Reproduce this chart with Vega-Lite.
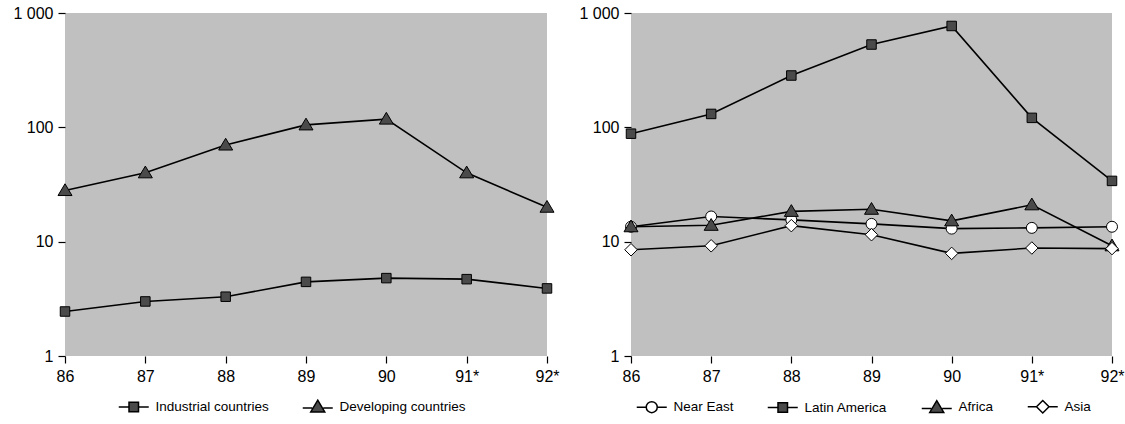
{
  "$schema": "https://vega.github.io/schema/vega-lite/v6.json",
  "background": "white",
  "padding": {"left": 12, "top": 5, "right": 0, "bottom": 0},
  "spacing": 16,
  "config": {
    "font": "Liberation Sans",
    "view": {"fill": "#c0c0c0", "stroke": null},
    "axis": {"labelFont": "Liberation Sans", "labelFontSize": 16, "labelColor": "black", "tickColor": "black", "tickWidth": 1.2, "domain": false, "grid": false, "tickSize": 7, "labelPadding": 5, "title": null},
    "legend": {"labelFont": "Liberation Sans", "labelFontSize": 13.5, "labelColor": "black", "title": null, "direction": "horizontal", "symbolOpacity": 1, "symbolStrokeColor": "black", "symbolStrokeWidth": 1.5, "symbolSize": 100, "labelOffset": 15, "columnPadding": 30}
  },
  "hconcat": [
    {
      "width": 482,
      "height": 343,
      "data": {"values": [
        {"year": "86", "series": "Industrial countries", "value": 2.45},
        {"year": "87", "series": "Industrial countries", "value": 3.0},
        {"year": "88", "series": "Industrial countries", "value": 3.3},
        {"year": "89", "series": "Industrial countries", "value": 4.45},
        {"year": "90", "series": "Industrial countries", "value": 4.8},
        {"year": "91*", "series": "Industrial countries", "value": 4.7},
        {"year": "92*", "series": "Industrial countries", "value": 3.9},
        {"year": "86", "series": "Developing countries", "value": 28},
        {"year": "87", "series": "Developing countries", "value": 40},
        {"year": "88", "series": "Developing countries", "value": 70},
        {"year": "89", "series": "Developing countries", "value": 105},
        {"year": "90", "series": "Developing countries", "value": 118},
        {"year": "91*", "series": "Developing countries", "value": 40},
        {"year": "92*", "series": "Developing countries", "value": 20}
      ]},
      "encoding": {
        "x": {"field": "year", "type": "ordinal", "sort": ["86", "87", "88", "89", "90", "91*", "92*"], "scale": {"type": "point", "padding": 0}, "axis": {"labelAngle": 0}},
        "y": {"field": "value", "type": "quantitative", "scale": {"type": "log", "domain": [1, 1000]}, "axis": {"values": [1, 10, 100, 1000], "labelExpr": "datum.value == 1000 ? '1 000' : format(datum.value, 'd')"}}
      },
      "layer": [
        {"mark": {"type": "line", "color": "black", "strokeWidth": 1.6}, "encoding": {"detail": {"field": "series"}}},
        {
          "mark": {"type": "point", "filled": true, "stroke": "black", "strokeWidth": 1, "opacity": 1, "size": 100},
          "encoding": {
            "shape": {"field": "series", "scale": {"domain": ["Industrial countries", "Developing countries"], "range": ["M-0.95,-0.95H0.95V0.95H-0.95Z", "M0,-1.35L1.4,1L-1.4,1Z"]}, "legend": null},
            "color": {"field": "series", "scale": {"domain": ["Industrial countries", "Developing countries"], "range": ["#4a4a4a", "#4a4a4a"]}, "legend": null}
          }
        },
        {
          "mark": {"type": "point", "filled": true, "opacity": 0, "strokeWidth": 1.5, "size": 100},
          "encoding": {
            "shape": {"field": "series", "scale": {"domain": ["Industrial countries", "Developing countries"], "range": ["M-3,0H-0.95M0.95,0H3M-0.95,-0.95H0.95V0.95H-0.95Z", "M-3,0.2H-1.1M1.1,0.2H3M0,-1.35L1.4,1L-1.4,1Z"]}, "legend": {"orient": "none", "legendX": 62, "legendY": 387, "direction": "horizontal"}},
            "fill": {"field": "series", "scale": {"domain": ["Industrial countries", "Developing countries"], "range": ["#4a4a4a", "#4a4a4a"]}, "legend": {"orient": "none", "legendX": 62, "legendY": 387, "direction": "horizontal"}},
            "stroke": {"field": "series", "scale": {"domain": ["Industrial countries", "Developing countries"], "range": ["black", "black"]}, "legend": {"orient": "none", "legendX": 62, "legendY": 387, "direction": "horizontal"}}
          }
        }
      ],
      "resolve": {"scale": {"shape": "independent", "fill": "independent", "color": "independent", "stroke": "independent"}}
    },
    {
      "width": 481,
      "height": 343,
      "data": {"values": [
        {"year": "86", "series": "Near East", "value": 13.5},
        {"year": "87", "series": "Near East", "value": 16.6},
        {"year": "88", "series": "Near East", "value": 15.5},
        {"year": "89", "series": "Near East", "value": 14.3},
        {"year": "90", "series": "Near East", "value": 13.0},
        {"year": "91*", "series": "Near East", "value": 13.2},
        {"year": "92*", "series": "Near East", "value": 13.5},
        {"year": "86", "series": "Latin America", "value": 88},
        {"year": "87", "series": "Latin America", "value": 131},
        {"year": "88", "series": "Latin America", "value": 284},
        {"year": "89", "series": "Latin America", "value": 530},
        {"year": "90", "series": "Latin America", "value": 770},
        {"year": "91*", "series": "Latin America", "value": 121},
        {"year": "92*", "series": "Latin America", "value": 34},
        {"year": "86", "series": "Africa", "value": 13.5},
        {"year": "87", "series": "Africa", "value": 13.9},
        {"year": "88", "series": "Africa", "value": 18.4},
        {"year": "89", "series": "Africa", "value": 19.2},
        {"year": "90", "series": "Africa", "value": 15.2},
        {"year": "91*", "series": "Africa", "value": 21},
        {"year": "92*", "series": "Africa", "value": 9.2},
        {"year": "86", "series": "Asia", "value": 8.5},
        {"year": "87", "series": "Asia", "value": 9.2},
        {"year": "88", "series": "Asia", "value": 13.8},
        {"year": "89", "series": "Asia", "value": 11.5},
        {"year": "90", "series": "Asia", "value": 7.9},
        {"year": "91*", "series": "Asia", "value": 8.8},
        {"year": "92*", "series": "Asia", "value": 8.7}
      ]},
      "encoding": {
        "x": {"field": "year", "type": "ordinal", "sort": ["86", "87", "88", "89", "90", "91*", "92*"], "scale": {"type": "point", "padding": 0}, "axis": {"labelAngle": 0}},
        "y": {"field": "value", "type": "quantitative", "scale": {"type": "log", "domain": [1, 1000]}, "axis": {"values": [1, 10, 100, 1000], "labelExpr": "datum.value == 1000 ? '1 000' : format(datum.value, 'd')"}}
      },
      "layer": [
        {"mark": {"type": "line", "color": "black", "strokeWidth": 1.6}, "encoding": {"detail": {"field": "series"}}},
        {
          "mark": {"type": "point", "filled": true, "stroke": "black", "strokeWidth": 1, "opacity": 1, "size": 100},
          "encoding": {
            "shape": {"field": "series", "scale": {"domain": ["Near East", "Latin America", "Africa", "Asia"], "range": ["M-1.1,0A1.1,1.1 0 1,0 1.1,0A1.1,1.1 0 1,0 -1.1,0Z", "M-0.95,-0.95H0.95V0.95H-0.95Z", "M0,-1.35L1.4,1L-1.4,1Z", "M0,-1.25L1.25,0L0,1.25L-1.25,0Z"]}, "legend": null},
            "color": {"field": "series", "scale": {"domain": ["Near East", "Latin America", "Africa", "Asia"], "range": ["white", "#4a4a4a", "#4a4a4a", "white"]}, "legend": null}
          }
        },
        {
          "mark": {"type": "point", "filled": true, "opacity": 0, "strokeWidth": 1.5, "size": 100},
          "encoding": {
            "shape": {"field": "series", "scale": {"domain": ["Near East", "Latin America", "Africa", "Asia"], "range": ["M-3,0H-1.1M1.1,0H3M-1.1,0A1.1,1.1 0 1,0 1.1,0A1.1,1.1 0 1,0 -1.1,0Z", "M-3,0H-0.95M0.95,0H3M-0.95,-0.95H0.95V0.95H-0.95Z", "M-3,0.2H-1.1M1.1,0.2H3M0,-1.35L1.4,1L-1.4,1Z", "M-3,0H-1.25M1.25,0H3M0,-1.25L1.25,0L0,1.25L-1.25,0Z"]}, "legend": {"orient": "none", "legendX": 14, "legendY": 387, "direction": "horizontal"}},
            "fill": {"field": "series", "scale": {"domain": ["Near East", "Latin America", "Africa", "Asia"], "range": ["white", "#4a4a4a", "#4a4a4a", "white"]}, "legend": {"orient": "none", "legendX": 14, "legendY": 387, "direction": "horizontal"}},
            "stroke": {"field": "series", "scale": {"domain": ["Near East", "Latin America", "Africa", "Asia"], "range": ["black", "black", "black", "black"]}, "legend": {"orient": "none", "legendX": 14, "legendY": 387, "direction": "horizontal"}}
          }
        }
      ],
      "resolve": {"scale": {"shape": "independent", "fill": "independent", "color": "independent", "stroke": "independent"}}
    }
  ]
}
